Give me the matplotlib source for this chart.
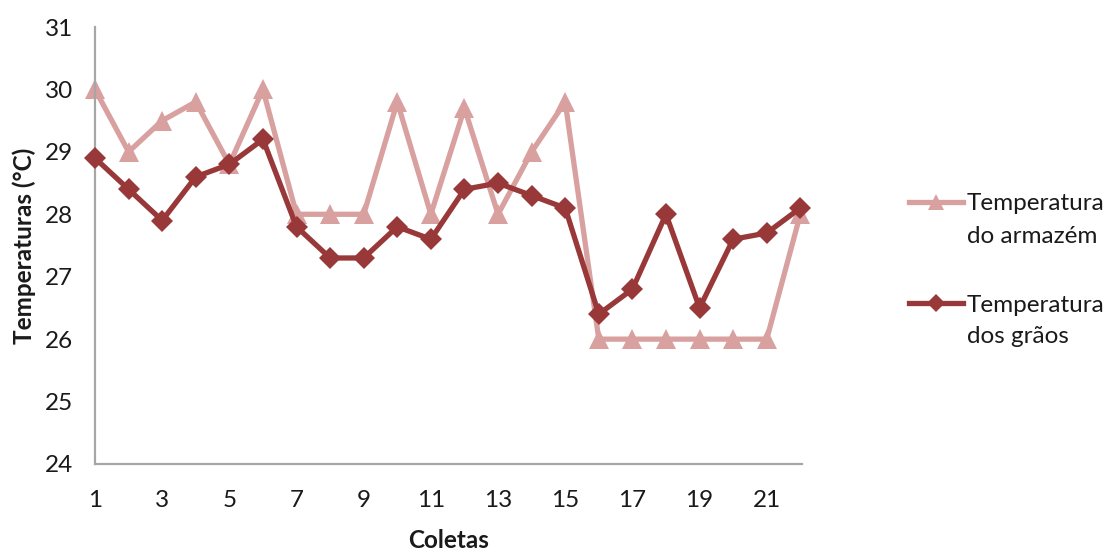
import matplotlib
matplotlib.use("Agg")
import matplotlib.pyplot as plt
from matplotlib.lines import Line2D

plt.rcParams['font.family'] = ['Lato', 'DejaVu Sans']

coletas = list(range(1, 23))
temp_armazem = [30.0, 29.0, 29.5, 29.8, 28.8, 30.0, 28.0, 28.0, 28.0, 29.8, 28.0,
                29.7, 28.0, 29.0, 29.8, 26.0, 26.0, 26.0, 26.0, 26.0, 26.0, 28.0]
temp_graos = [28.9, 28.4, 27.9, 28.6, 28.8, 29.2, 27.8, 27.3, 27.3, 27.8, 27.6,
              28.4, 28.5, 28.3, 28.1, 26.4, 26.8, 28.0, 26.5, 27.6, 27.7, 28.1]
x_ticks = list(range(1, 23, 2))
y_ticks = list(range(24, 32))
series_names = [('Temperatura', 'do armazém'), ('Temperatura', 'dos grãos')]

c_armazem = '#D9A0A0'
c_graos = '#983838'
txt = '#1a1a1a'
fs = 17.5
lw = 3.8

W, H = 1107, 552
fig = plt.figure(figsize=(W / 100, H / 100), dpi=100)
ax = fig.add_axes([95 / W, 1 - 464 / H, (802 - 95) / W, (464 - 27) / H])

styles = [dict(color=c_armazem, marker='^', ms=14),
          dict(color=c_graos, marker='D', ms=11.5)]

ax.plot(coletas, temp_armazem, lw=lw, markeredgewidth=0, zorder=2, clip_on=False,
        **styles[0])
ax.plot(coletas, temp_graos, lw=lw, markeredgewidth=0, zorder=3, clip_on=False,
        **styles[1])

ax.set_xlim(1, 22.05)
ax.set_ylim(24, 31)
ax.set_xticks(x_ticks)
ax.set_yticks(y_ticks)
ax.tick_params(axis='both', length=0, labelsize=fs, colors=txt)
ax.tick_params(axis='x', pad=19)
ax.tick_params(axis='y', pad=16)

for s in ['top', 'right']:
    ax.spines[s].set_visible(False)
for s in ['left', 'bottom']:
    ax.spines[s].set_color('#a6a6a6')
    ax.spines[s].set_linewidth(1.6)

ax.set_xlabel('Coletas', fontsize=fs, fontweight='bold', color=txt, labelpad=13)
ax.set_ylabel('Temperaturas (°C)', fontsize=fs, fontweight='bold', color=txt, labelpad=6)

# legend: sample line with marker aligned to first line of each two-line label
entries = [(202, 210, 243), (303, 312, 343)]
legend_ms = [12, 9.5]
for (hy, b1, b2), st, lms, (l1, l2) in zip(entries, styles, legend_ms, series_names):
    yf = 1 - hy / H
    fig.add_artist(Line2D([909 / W, 963 / W], [yf, yf], lw=lw, color=st['color'],
                          transform=fig.transFigure))
    fig.add_artist(Line2D([936 / W], [yf], marker=st['marker'], ms=lms,
                          markeredgewidth=0, color=st['color'], linestyle='none',
                          transform=fig.transFigure))
    fig.text(967 / W, 1 - b1 / H, l1, fontsize=fs, color=txt, va='baseline', ha='left')
    fig.text(967 / W, 1 - b2 / H, l2, fontsize=fs, color=txt, va='baseline', ha='left')

fig.savefig('out.png', dpi=100)
